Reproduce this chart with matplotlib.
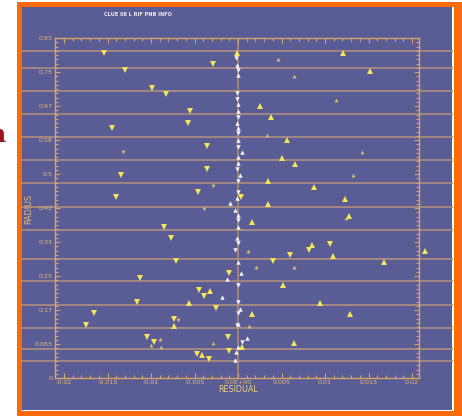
import matplotlib
matplotlib.use("Agg")
import matplotlib.pyplot as plt
from matplotlib.patches import Rectangle
import numpy as np

# ---- data -------------------------------------------------------------
# residual / radius pairs, grouped by symbol (above / below fit) and colour
yellow_down_res = [-0.0154, -0.0130, -0.0029, -0.0099, -0.0083, -0.0055, -0.0057, -0.0145,
                   -0.0036, -0.0036, -0.0134, -0.0046, -0.0140, -0.0085, -0.0077, -0.0071,
                   -0.0113, -0.0010, 0.0003, 0.0082, 0.0060, 0.0040, -0.0045, -0.0039,
                   -0.0116, -0.0025, -0.0166, -0.0074, -0.0175, -0.0105, -0.0097, -0.0011,
                   -0.0010, -0.0047, -0.0033, 0.0106]
yellow_down_rad = [0.797, 0.755, 0.770, 0.711, 0.696, 0.654, 0.625, 0.613,
                   0.569, 0.512, 0.498, 0.456, 0.444, 0.370, 0.343, 0.287,
                   0.245, 0.257, 0.444, 0.314, 0.301, 0.287, 0.216, 0.201,
                   0.186, 0.172, 0.159, 0.145, 0.130, 0.100, 0.088, 0.100,
                   0.066, 0.059, 0.047, 0.328]

yellow_up_res = [-0.0001, 0.0121, 0.0152, 0.0025, 0.0038, 0.0056, 0.0051, 0.0066,
                 0.0034, 0.0087, 0.0123, 0.0034, 0.0016, 0.0128, 0.0085, 0.0109,
                 0.0215, 0.0168, 0.0052, 0.0094, 0.0016, 0.0129, 0.0064, 0.0005,
                 -0.0032, -0.0056, -0.0074, -0.0041]
yellow_up_rad = [0.797, 0.797, 0.752, 0.667, 0.640, 0.583, 0.539, 0.525,
                 0.483, 0.468, 0.439, 0.426, 0.382, 0.397, 0.326, 0.299,
                 0.311, 0.284, 0.228, 0.184, 0.157, 0.157, 0.086, 0.076,
                 0.213, 0.184, 0.127, 0.056]

# fainter, smaller symbols
small_down_res = [-0.0132, -0.0029, -0.0039, -0.0069]
small_down_rad = [0.554, 0.471, 0.414, 0.142]
small_up_res = [0.0046, 0.0064, 0.0113, 0.0132, 0.0124, 0.0011, 0.0021, 0.0064,
                0.0143, 0.0033, 0.0013, -0.0090, -0.0089, -0.0029, -0.0100]
small_up_rad = [0.782, 0.740, 0.681, 0.498, 0.392, 0.311, 0.272, 0.272,
                0.554, 0.596, 0.127, 0.096, 0.076, 0.086, 0.081]

# points lying on the fit
white_down_res = [-0.00023, 0.0, -0.00011, -0.00011, 0.0, 0.0, 0.0, -0.00011,
                  0.0, 0.0, 0.0, 0.0, -0.00034, 0.0, 0.0, 0.0, -0.00011, 0.00046]
white_down_rad = [0.784, 0.755, 0.699, 0.684, 0.640, 0.600, 0.566, 0.512,
                  0.483, 0.456, 0.387, 0.331, 0.314, 0.228, 0.186, 0.160, 0.130, 0.088]
white_up_res = [-0.00011, 0.0, 0.0, 0.0, -0.00011, 0.0, 0.0, 0.00046,
                0.0, 0.0, 0.00023, -0.00011, -0.00092, -0.00034, 0.0, 0.0,
                -0.00011, 0.0, 0.00034, -0.00126, -0.0018, 0.00023, 0.00103, 0.0,
                -0.00023, -0.00034, 0.0]
white_up_rad = [0.767, 0.743, 0.672, 0.654, 0.625, 0.613, 0.583, 0.554,
                0.542, 0.527, 0.498, 0.441, 0.429, 0.412, 0.400, 0.370,
                0.343, 0.284, 0.257, 0.243, 0.199, 0.169, 0.098, 0.076,
                0.064, 0.044, 0.132]

# radial bin boundaries
bin_edges = [0.801, 0.760, 0.703, 0.647, 0.591, 0.534, 0.478, 0.419,
             0.363, 0.292, 0.238, 0.179, 0.123, 0.071, 0.042]

x_ticks = [-0.02, -0.015, -0.01, -0.005, 0.0, 0.005, 0.01, 0.015, 0.02]
x_labels = ["-0.02", "-0.015", "-0.01", "-0.005", "0.0E+00", "0.005", "0.01", "0.015", "0.02"]
y_ticks = [k / 12 for k in range(11)]
y_labels = ["0", "0.083", "0.17", "0.25", "0.33", "0.42", "0.5", "0.58", "0.67", "0.75", "0.83"]

# ---- style ------------------------------------------------------------
W, H = 462, 416
BLUE = "#5a5c95"
ORANGE = "#ff6a08"
AXIS = "#d9a468"
GRID = "#a88a7e"
LABEL = "#e6bb78"
YELLOW = "#f5e55a"
YELLOW_FAINT = "#d8c468"
WHITE = "#f4f4fa"

fig = plt.figure(figsize=(W / 100, H / 100), dpi=100, facecolor="white")


def fbox(x0, y0, x1, y1):
    """pixel box (top-left origin) -> figure fraction rectangle args"""
    return (x0 / W, 1 - y1 / H), (x1 - x0) / W, (y1 - y0) / H


for (x0, y0, x1, y1), col in [((17, 1.5, 462, 416), ORANGE),
                               ((22, 7, 454, 411), "white"),
                               ((22, 7, 452, 410), BLUE)]:
    xy, w, h = fbox(x0, y0, x1, y1)
    fig.patches.append(Rectangle(xy, w, h, transform=fig.transFigure,
                                 facecolor=col, edgecolor="none", zorder=-5))

# fragment of slide heading to the left of the panel
fig.text(5 / W, 1 - 142 / H, "n", ha="right", va="baseline", fontsize=17,
         fontweight="bold", family="DejaVu Serif", color="#9b1422")

ax_l, ax_r, ax_t, ax_b = 55, 419, 38, 378
ax = fig.add_axes([ax_l / W, 1 - ax_b / H, (ax_r - ax_l) / W, (ax_b - ax_t) / H])
ax.set_zorder(1)
ax.set_facecolor(BLUE)
ax.set_xlim((ax_l - 238) / 8700, (ax_r - 238) / 8700)
ax.set_ylim(0, 10 / 12 + 0.0001)

# bin boundaries run across the whole panel
xmin = (22 - ax_l) / (ax_r - ax_l)
xmax = (452 - ax_l) / (ax_r - ax_l)
for r in bin_edges:
    ax.axhline(r, xmin=xmin, xmax=xmax, color=GRID, lw=1.3, clip_on=False, zorder=1)
ax.axvline(0, color=GRID, lw=1.2, zorder=1)

kw = dict(linestyle="none", markeredgewidth=0, clip_on=False, zorder=3)
ax.plot(yellow_down_res, yellow_down_rad, marker="v", ms=3.8, color=YELLOW, **kw)
ax.plot(yellow_up_res, yellow_up_rad, marker="^", ms=3.8, color=YELLOW, **kw)
ax.plot(small_down_res, small_down_rad, marker="v", ms=2.7, color=YELLOW_FAINT, **kw)
ax.plot(small_up_res, small_up_rad, marker="^", ms=2.7, color=YELLOW_FAINT, **kw)
ax.plot(white_down_res, white_down_rad, marker="v", ms=3.2, color=WHITE, **kw)
ax.plot(white_up_res, white_up_rad, marker="^", ms=3.2, color=WHITE, **kw)

for s in ax.spines.values():
    s.set_color(AXIS)
    s.set_linewidth(1.0)

ax.set_xticks(x_ticks)
ax.set_xticklabels(x_labels)
ax.set_xticks(np.arange(-20, 21) / 1000, minor=True)
ax.set_yticks(y_ticks)
ax.set_yticklabels(y_labels)
ax.set_yticks(np.arange(0, 81) / 96, minor=True)
ax.tick_params(axis="both", which="both", direction="in", top=True, right=True,
               color=AXIS, labelcolor=LABEL, labelsize=4.6, width=0.8, pad=1.5)
ax.tick_params(which="major", length=3.8)
ax.tick_params(which="minor", length=2.0)

fig.text(238 / W, 1 - 390 / H, "RESIDUAL", ha="center", va="center",
         fontsize=5.8, color="#f0d27a")
fig.text(29 / W, 1 - 209 / H, "RADIUS", ha="center", va="center", rotation=90,
         fontsize=5.8, color=LABEL)
fig.text(138 / W, 1 - 14 / H, "CLUE 08 L RIF PNB INFO", ha="center", va="center",
         fontsize=3.6, color="#ececf4", fontweight="bold")

fig.savefig("out.png", dpi=100, facecolor="white")
